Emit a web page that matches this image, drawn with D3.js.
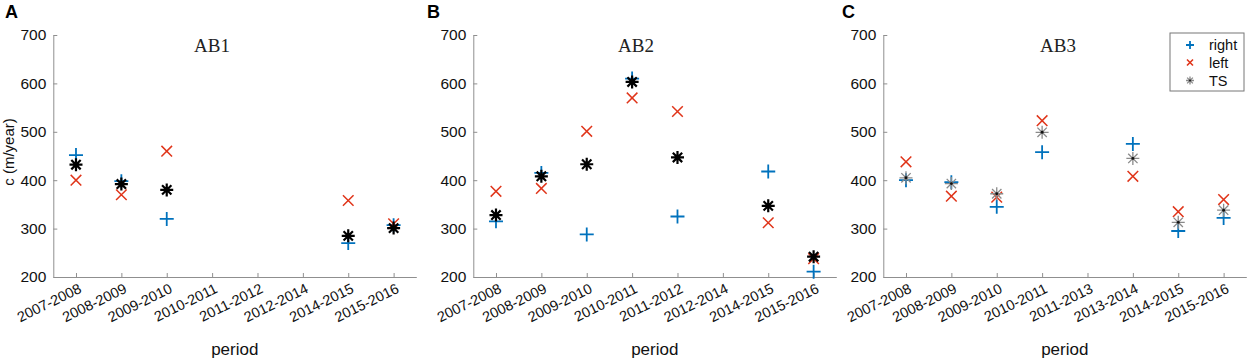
<!DOCTYPE html>
<html><head><meta charset="utf-8">
<script src="https://cdn.jsdelivr.net/npm/d3@7"></script>
<style>
body{margin:0;background:#fff}
svg{display:block}
text{font-family:"Liberation Sans",Arial,sans-serif}
</style>
</head><body>
<svg id="chart" width="1247" height="361"></svg>
<script>
// ---------- data ----------
const periodsAB = ["2007-2008","2008-2009","2009-2010","2010-2011","2011-2012","2012-2014","2014-2015","2015-2016"];
const periodsC  = ["2007-2008","2008-2009","2009-2010","2010-2011","2011-2013","2013-2014","2014-2015","2015-2016"];
const yTicks = [200,300,400,500,600,700];

const ab1Right = [452, 398, 320, null, null, null, 270, 307];
const ab1Left  = [400, 370, 460, null, null, null, 358, 310];
const ab1TS    = [432, 392, 380, null, null, null, 285, 301];

const ab2Right = [315, 415, 288, 610, 325, null, 418, 211];
const ab2Left  = [377, 383, 501, 570, 542, null, 312, 238];
const ab2TS    = [328, 408, 433, 603, 447, null, 347, 242];

const ab3Right = [400, 396, 345, 458, null, 475, 295, 322];
const ab3Left  = [438, 367, 365, 523, null, 408, 335, 360];
const ab3TS    = [405, 393, 372, 499, null, 445, 313, 338];

const legendLabels = ["right","left","TS"];

// ---------- layout ----------
const svg = d3.select("#chart");
const TOP = 35, BOTTOM = 277, PW = 363;
const BLUE = "#0072BD", RED = "#E0351A", AXIS = "#8f8f8f";

const panels = [
  {letter:"A", letterX:5,   title:"AB1", titleX:212,  x0:53.3,  cats:periodsAB, right:ab1Right, left:ab1Left, ts:ab1TS, grayTS:false, ylabel:true},
  {letter:"B", letterX:427, title:"AB2", titleX:636,  x0:473.3, cats:periodsAB, right:ab2Right, left:ab2Left, ts:ab2TS, grayTS:false},
  {letter:"C", letterX:842, title:"AB3", titleX:1058, x0:883.3, cats:periodsC,  right:ab3Right, left:ab3Left, ts:ab3TS, grayTS:true, legend:true}
];

function plusPath(cx, cy, s){ return `M${cx-s},${cy}H${cx+s}M${cx},${cy-s}V${cy+s}`; }
function crossPath(cx, cy, s){ return `M${cx-s},${cy-s}L${cx+s},${cy+s}M${cx-s},${cy+s}L${cx+s},${cy-s}`; }
function starPath(cx, cy, s){ const d = s*0.72; return plusPath(cx,cy,s) + crossPath(cx,cy,d); }

function drawTS(g, cx, cy, gray, s){
  if (gray){
    g.append("path").attr("d", starPath(cx,cy,s)).attr("stroke","#8a8a8a").attr("stroke-width",1.3).attr("fill","none");
    g.append("circle").attr("cx",cx).attr("cy",cy).attr("r",s*0.22).attr("fill","#111");
  } else {
    g.append("path").attr("d", starPath(cx,cy,s)).attr("stroke","#000").attr("stroke-width",2.2).attr("fill","none");
  }
}

panels.forEach(p => {
  const g = svg.append("g");
  const x = d3.scalePoint().domain(p.cats).range([p.x0, p.x0 + PW]).padding(0.5);
  const y = d3.scaleLinear().domain([200,700]).range([BOTTOM, TOP]);

  // y axis
  const ya = g.append("g").attr("transform",`translate(${p.x0},0)`)
    .call(d3.axisLeft(y).tickValues(yTicks).tickSize(-4).tickSizeOuter(0).tickPadding(7));
  ya.select(".domain").attr("stroke",AXIS);
  ya.selectAll(".tick line").attr("stroke",AXIS);
  ya.selectAll(".tick text").attr("font-size",15.5).attr("fill","#111").style("font-family","Liberation Sans, Arial, sans-serif");

  // x axis
  const xa = g.append("g").attr("transform",`translate(0,${BOTTOM})`)
    .call(d3.axisBottom(x).tickSize(-4).tickSizeOuter(0));
  xa.select(".domain").attr("stroke",AXIS);
  xa.selectAll(".tick line").attr("stroke",AXIS);
  xa.selectAll(".tick text")
    .attr("font-size",14.5).attr("fill","#111").style("font-family","Liberation Sans, Arial, sans-serif")
    .attr("text-anchor","end").attr("dy",null).attr("y",null)
    .attr("transform","translate(6,15) rotate(-26)");

  // axis label
  g.append("text").attr("x", p.x0 + PW/2).attr("y", 355).attr("text-anchor","middle")
    .attr("font-size",17).attr("fill","#111").text("period");
  if (p.ylabel){
    g.append("text").attr("transform","translate(14,152) rotate(-90)").attr("text-anchor","middle")
      .attr("font-size",15).attr("fill","#111").text("c (m/year)");
  }

  // panel letter and title
  g.append("text").attr("x",p.letterX).attr("y",18).attr("font-size",18).attr("font-weight","bold").attr("fill","#000").text(p.letter);
  g.append("text").attr("x",p.titleX).attr("y",52).attr("text-anchor","middle")
    .style("font-family","Liberation Serif, Times New Roman, serif").attr("font-size",19).attr("fill","#222").text(p.title);

  // markers
  p.cats.forEach((c,i) => {
    const cx = x(c);
    if (p.right[i] != null) g.append("path").attr("d", plusPath(cx, y(p.right[i]), 7)).attr("stroke",BLUE).attr("stroke-width",1.8).attr("fill","none");
    if (p.left[i]  != null) g.append("path").attr("d", crossPath(cx, y(p.left[i]), 5.3)).attr("stroke",RED).attr("stroke-width",1.5).attr("fill","none");
    if (p.ts[i]    != null) drawTS(g, cx, y(p.ts[i]), p.grayTS, 6.5);
  });

  // legend
  if (p.legend){
    const lg = g.append("g");
    lg.append("rect").attr("x",1170).attr("y",33).attr("width",74).attr("height",58)
      .attr("fill","#fff").attr("stroke","#777").attr("stroke-width",1);
    const rowsY = [45, 62.5, 80.5];
    legendLabels.forEach((lab,k) => {
      const ly = rowsY[k], lx = 1190;
      if (k===0) lg.append("path").attr("d",plusPath(lx,ly,4)).attr("stroke",BLUE).attr("stroke-width",1.8);
      if (k===1) lg.append("path").attr("d",crossPath(lx,ly,3)).attr("stroke",RED).attr("stroke-width",1.6);
      if (k===2) drawTS(lg, lx, ly, true, 4);
      lg.append("text").attr("x",1209).attr("y",ly).attr("dy","0.36em").attr("font-size",14.5).attr("fill","#111").text(lab);
    });
  }
});
</script>
</body></html>
